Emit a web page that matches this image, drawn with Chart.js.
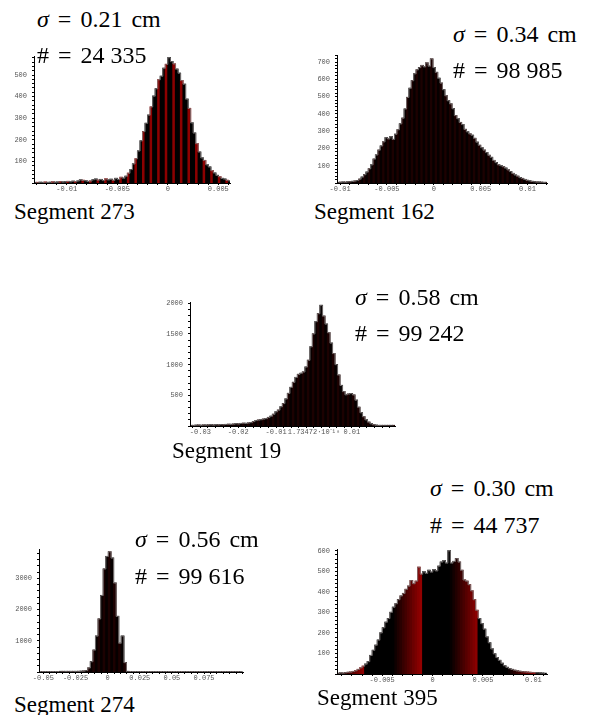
<!DOCTYPE html>
<html>
<head>
<meta charset="utf-8">
<title>Segment residual histograms</title>
<script src="https://cdn.jsdelivr.net/npm/chart.js@4.4.1/dist/chart.umd.min.js"></script>
<style>
  body { margin: 0; background: #fff; }
  #page { position: relative; width: 590px; height: 715px; overflow: hidden; background: #fff; }
  .box { position: absolute; }
  .lbl { position: absolute; font-family: 'Liberation Serif', 'Times New Roman', serif; font-size: 24px; line-height: 24px; white-space: nowrap; color: #000; word-spacing: 3px; }
  .seg { font-size: 23px; word-spacing: 0; }
</style>
</head>
<body>
<div id="page">
  <div class="box" style="left:4px;top:54px;width:228px;height:143px"><canvas id="c273"></canvas></div>
  <div class="box" style="left:307px;top:53px;width:242px;height:144px"><canvas id="c162"></canvas></div>
  <div class="box" style="left:160px;top:300px;width:237px;height:140px"><canvas id="c19"></canvas></div>
  <div class="box" style="left:9px;top:547px;width:236px;height:139px"><canvas id="c274"></canvas></div>
  <div class="box" style="left:307px;top:547px;width:242px;height:141px"><canvas id="c395"></canvas></div>

  <div class="lbl" style="left:37px;top:7px"><i>σ</i> = 0.21 cm</div>
  <div class="lbl" style="left:37px;top:43px"># = 24&#8197;335</div>
  <div class="lbl seg" style="left:14px;top:200px">Segment 273</div>

  <div class="lbl" style="left:453px;top:22px"><i>σ</i> = 0.34 cm</div>
  <div class="lbl" style="left:453px;top:58px"># = 98&#8197;985</div>
  <div class="lbl seg" style="left:314px;top:200px">Segment 162</div>

  <div class="lbl" style="left:355px;top:285px"><i>σ</i> = 0.58 cm</div>
  <div class="lbl" style="left:355px;top:321px"># = 99&#8197;242</div>
  <div class="lbl seg" style="left:172px;top:439px">Segment 19</div>

  <div class="lbl" style="left:135px;top:527px"><i>σ</i> = 0.56 cm</div>
  <div class="lbl" style="left:135px;top:564px"># = 99&#8197;616</div>
  <div class="lbl seg" style="left:14px;top:693px">Segment 274</div>

  <div class="lbl" style="left:430px;top:476px"><i>σ</i> = 0.30 cm</div>
  <div class="lbl" style="left:430px;top:513px"># = 44&#8197;737</div>
  <div class="lbl seg" style="left:317px;top:686px">Segment 395</div>
</div>

<script>
// --- Segment 273 ---
const seg273BinStart = -0.01324;
const seg273BinWidth = 0.00025;
const seg273Counts = [2, 1, 3, 2, 4, 2, 3, 5, 3, 4, 6, 4, 5, 7, 5, 8, 6, 9,
  14, 12, 10, 7, 9, 15, 18, 13, 16, 11, 19, 14, 17, 12, 21, 16, 26, 22, 31,
  45, 62, 88, 112, 148, 195, 238, 276, 314, 352, 402, 436, 478, 494, 531, 549, 580,
  562, 551, 527, 508, 474, 457, 388, 345, 278, 231, 182, 143, 116, 104, 84, 74, 57, 46, 35, 29, 21, 18, 12, 9];
const seg273XTicks = [-0.01, -0.005, 0, 0.005];
const seg273XLabels = ['-0.01', '-0.005', '0', '0.005'];
const seg273YTicks = [100, 200, 300, 400, 500];

// --- Segment 162 ---
const seg162BinStart = -0.0103;
const seg162BinWidth = 0.000255;
const seg162Counts = [3, 4, 5, 4, 6, 7, 9, 11, 14, 22,
  34, 48, 63, 82, 105, 138, 162, 190, 214, 238,
  262, 255, 268, 252, 282, 308, 342, 375, 428, 495,
  548, 592, 632, 655, 668, 680, 672, 695, 676, 718,
  668, 640, 606, 578, 540, 505, 476, 458, 430, 390,
  372, 350, 338, 310, 296, 284, 276, 258, 236, 218,
  204, 190, 176, 160, 148, 130, 118, 105, 100, 94,
  86, 76, 66, 55, 46, 39, 31, 26, 20, 15,
  12, 9, 7, 5, 5, 4, 3, 2];
const seg162XTicks = [-0.01, -0.005, 0, 0.005, 0.01];
const seg162XLabels = ['-0.01', '-0.005', '0', '0.005', '0.01'];
const seg162YTicks = [100, 200, 300, 400, 500, 600, 700];

// --- Segment 19 ---
const seg19BinStart = -0.03274;
const seg19BinWidth = 0.00066;
const seg19Counts = [5, 8, 12, 14, 10, 15, 13, 16, 18, 14,
  19, 17, 22, 20, 24, 27, 25, 30, 36, 33,
  40, 44, 41, 48, 55, 72, 88, 96, 102, 112,
  120, 138, 158, 190, 230, 258, 312, 365, 440, 530,
  628, 710, 790, 840, 858, 880, 960, 1070, 1290, 1500,
  1700, 1830, 1965, 1790, 1660, 1520, 1350, 1180, 1000, 830,
  660, 560, 508, 520, 528, 505, 420, 305, 215, 150,
  100, 62, 36, 20, 12, 8, 5, 4, 3, 2,
  1, 1];
const seg19XTicks = [-0.03, -0.02, -0.01, 0, 0.01];
const seg19XLabels = ['-0.03', '-0.02', '-0.01', '1.73472·10⁻¹⁸', '0.01'];
const seg19YTicks = [500, 1000, 1500, 2000];

// --- Segment 274 ---
const seg274BinStart = -0.0534;
const seg274BinWidth = 0.002;
const seg274Counts = [0, 0, 0, 0, 0, 0, 0, 0,
  4, 8, 12, 10, 14, 12, 16, 18, 22, 28,
  45, 130, 330, 700, 1150, 1700, 2450, 3300, 3700, 3850, 3650, 2850, 1780, 920, 1150, 300,
  8,
  0, 0, 0, 0, 0, 0, 0, 0, 0, 0, 0, 0, 0, 0, 0, 0, 0, 0, 0, 0, 0, 0,
  0, 0, 0, 0, 0, 0, 0, 0, 0, 0, 0, 0, 0, 0, 0, 0, 0, 0, 0, 0, 0, 0];
const seg274XTicks = [-0.05, -0.025, 0, 0.025, 0.05, 0.075];
const seg274XLabels = ['-0.05', '-0.025', '0', '0.025', '0.05', '0.075'];
const seg274YTicks = [1000, 2000, 3000];

// --- Segment 395 ---
const seg395BinStart = -0.00948;
const seg395BinWidth = 0.00025;
const seg395Counts = [3, 5, 4, 6, 8, 9, 12, 16, 22, 30,
  38, 48, 60, 90, 115, 140, 165, 200, 225, 252,
  270, 300, 325, 342, 362, 380, 392, 412, 428, 455,
  440, 452, 520, 486, 498, 490, 505, 496, 508, 502,
  525, 545, 552, 540, 600, 540, 548, 562, 545, 505,
  458, 452, 435, 405, 362, 310, 270, 245, 218, 180,
  152, 122, 98, 80, 66, 52, 40, 32, 26, 22,
  18, 15, 13, 11, 10, 9, 8, 7, 6, 6,
  5, 4, 3];
const seg395XTicks = [-0.005, 0, 0.005, 0.01];
const seg395XLabels = ['-0.005', '0', '0.005', '0.01'];
const seg395YTicks = [100, 200, 300, 400, 500, 600];

// bar colouring (Mathematica's aliased gradient look)
const stripeRed = i => (i % 3 === 1 ? '#8c0000' : '#000000');
const stripeDark = i => (i % 2 ? '#1c0101' : '#060000');
const band395 = v => {
  const period = 0.005655, edge = -0.00671;
  let ph = ((v - edge) / period) % 1;
  if (ph < 0) ph += 1;
  if (ph < 0.5) return '#000000';
  return 'rgb(' + Math.round(150 * (ph - 0.5) * 2) + ',0,0)';
};

function stepTicks(lo, hi, step) {
  const out = [];
  for (let k = Math.ceil(lo / step - 1e-9); k * step <= hi + 1e-12; k++) out.push(+(k * step).toFixed(10));
  return out;
}

function drawPanel(id, p) {
  const pts = p.counts.map((c, i) => ({ x: p.binStart + (i + 0.5) * p.binWidth, y: c }));
  const tickFont = { family: 'Liberation Mono', size: 7 };

  new Chart(document.getElementById(id), {
    type: 'bar',
    data: {
      datasets: [
        {
          // grey outline along the bar tops
          type: 'line',
          data: pts,
          stepped: 'middle',
          borderColor: 'rgba(130,125,125,0.85)',
          borderWidth: 1,
          pointRadius: 0,
          fill: false,
          order: 0
        },
        {
          data: pts,
          backgroundColor: ctx => p.color(ctx.dataIndex, ctx.raw ? ctx.raw.x : 0),
          borderWidth: 0,
          inflateAmount: 0.6,
          barPercentage: 1,
          categoryPercentage: 1,
          order: 1
        }
      ]
    },
    options: {
      responsive: true,
      maintainAspectRatio: false,
      animation: false,
      layout: { padding: { top: 2, right: 2, left: 0, bottom: 0 } },
      plugins: { legend: { display: false }, tooltip: { enabled: false } },
      scales: {
        x: {
          type: 'linear',
          min: p.xMin,
          max: p.xMax,
          offset: false,
          grid: { drawOnChartArea: false, offset: false, tickLength: 2, color: '#000' },
          border: { color: '#000', width: 1 },
          ticks: {
            autoSkip: false,
            maxRotation: 0,
            padding: 0,
            color: '#555',
            font: tickFont,
            callback: v => {
              const k = p.xTicks.findIndex(t => Math.abs(t - v) < 1e-9);
              return k >= 0 ? p.xLabels[k] : '';
            }
          },
          afterBuildTicks: s => { s.ticks = stepTicks(p.xMin, p.xMax, p.xMinor).map(v => ({ value: v })); },
          afterFit: s => { s.height = 14; s.paddingLeft = 0; s.paddingRight = 0; }
        },
        y: {
          min: 0,
          max: p.yMax,
          grid: { drawOnChartArea: false, tickLength: 2, color: '#000' },
          border: { color: '#000', width: 1 },
          ticks: {
            autoSkip: false,
            padding: 5,
            color: '#555',
            font: tickFont,
            callback: v => (p.yTicks.includes(v) ? String(v) : '')
          },
          afterBuildTicks: s => { s.ticks = stepTicks(0, p.yMax, p.yMinor).map(v => ({ value: v })); },
          afterFit: s => { s.width = 30; s.paddingTop = 0; s.paddingBottom = 0; }
        }
      }
    }
  });
}

drawPanel('c273', {
  counts: seg273Counts, binStart: seg273BinStart, binWidth: seg273BinWidth,
  xMin: -0.01324, xMax: 0.00616, xMinor: 0.001, yMax: 588, yMinor: 20,
  xTicks: seg273XTicks, xLabels: seg273XLabels, yTicks: seg273YTicks,
  color: i => stripeRed(i)
});
drawPanel('c162', {
  counts: seg162Counts, binStart: seg162BinStart, binWidth: seg162BinWidth,
  xMin: -0.01033, xMax: 0.01208, xMinor: 0.001, yMax: 741, yMinor: 20,
  xTicks: seg162XTicks, xLabels: seg162XLabels, yTicks: seg162YTicks,
  color: i => stripeDark(i)
});
drawPanel('c19', {
  counts: seg19Counts, binStart: seg19BinStart, binWidth: seg19BinWidth,
  xMin: -0.03274, xMax: 0.0214, xMinor: 0.002, yMax: 2021, yMinor: 100,
  xTicks: seg19XTicks, xLabels: seg19XLabels, yTicks: seg19YTicks,
  color: i => stripeDark(i)
});
drawPanel('c274', {
  counts: seg274Counts, binStart: seg274BinStart, binWidth: seg274BinWidth,
  xMin: -0.0534, xMax: 0.1053, xMinor: 0.005, yMax: 3942, yMinor: 200,
  xTicks: seg274XTicks, xLabels: seg274XLabels, yTicks: seg274YTicks,
  color: i => stripeDark(i)
});
drawPanel('c395', {
  counts: seg395Counts, binStart: seg395BinStart, binWidth: seg395BinWidth,
  xMin: -0.00948, xMax: 0.01135, xMinor: 0.001, yMax: 609, yMinor: 20,
  xTicks: seg395XTicks, xLabels: seg395XLabels, yTicks: seg395YTicks,
  color: (i, v) => band395(v)
});
</script>
</body>
</html>
